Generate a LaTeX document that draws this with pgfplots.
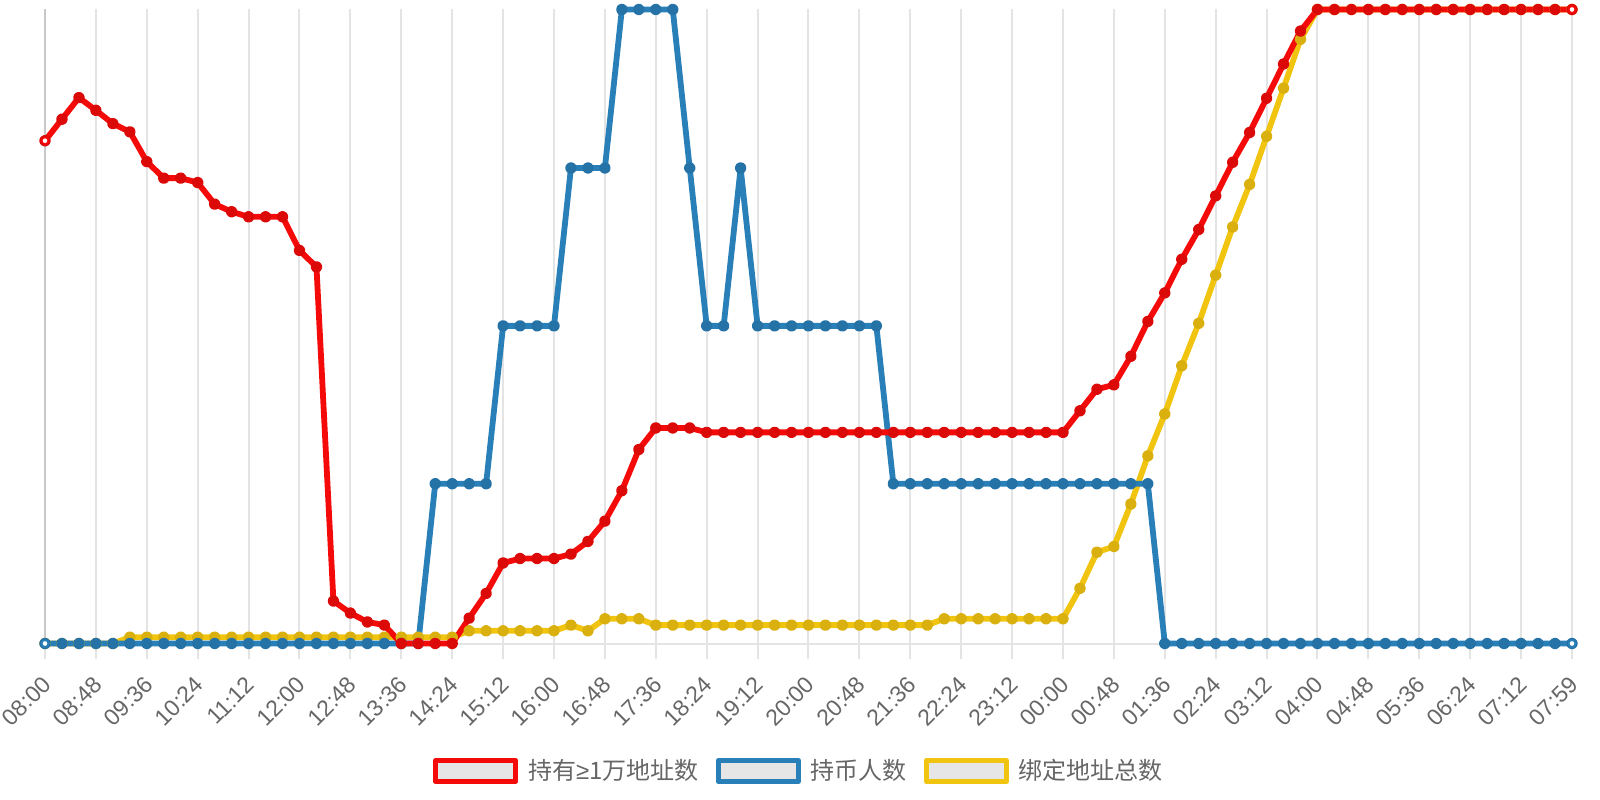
\documentclass[border=0pt]{standalone}
\usepackage{pgfplots}
\pgfplotsset{compat=1.18}
\usepackage{pgfplotstable}
\usepackage{fontspec}
\setmainfont{Liberation Sans}
\newfontfamily\cjk{Noto Sans CJK SC}
\newfontfamily\latin{Liberation Sans}
\definecolor{cred}{RGB}{245,10,10}
\definecolor{cblue}{RGB}{41,128,185}
\definecolor{cyellow}{RGB}{241,196,15}
\definecolor{gridgray}{RGB}{228,228,228}
\definecolor{axisgray}{RGB}{200,200,200}
\definecolor{textgray}{RGB}{102,102,102}
\definecolor{legfill}{RGB}{230,230,230}

\pgfplotstableread{
i r b y
0 79.3 0 0
1 82.7 0 0
2 86.1 0 0
3 84.1 0 0
4 82.0 0 0
5 80.7 0 1.0
6 76.0 0 1.0
7 73.4 0 1.0
8 73.4 0 1.0
9 72.7 0 1.0
10 69.3 0 1.0
11 68.1 0 1.0
12 67.3 0 1.0
13 67.3 0 1.0
14 67.3 0 1.0
15 62.0 0 1.0
16 59.4 0 1.0
17 6.7 0 1.0
18 4.8 0 1.0
19 3.4 0 1.0
20 2.9 0 1.0
21 0 0 1.0
22 0 0 1.0
23 0 25.2 1.0
24 0 25.2 1.0
25 4.0 25.2 2.0
26 7.9 25.2 2.0
27 12.7 50.1 2.0
28 13.4 50.1 2.0
29 13.4 50.1 2.0
30 13.4 50.1 2.0
31 14.1 75.0 2.9
32 16.1 75.0 2.0
33 19.3 75.0 3.9
34 24.1 100 3.9
35 30.6 100 3.9
36 34.0 100 2.9
37 34.0 100 2.9
38 34.0 75.0 2.9
39 33.3 50.1 2.9
40 33.3 50.1 2.9
41 33.3 75.0 2.9
42 33.3 50.1 2.9
43 33.3 50.1 2.9
44 33.3 50.1 2.9
45 33.3 50.1 2.9
46 33.3 50.1 2.9
47 33.3 50.1 2.9
48 33.3 50.1 2.9
49 33.3 50.1 2.9
50 33.3 25.2 2.9
51 33.3 25.2 2.9
52 33.3 25.2 2.9
53 33.3 25.2 3.9
54 33.3 25.2 3.9
55 33.3 25.2 3.9
56 33.3 25.2 3.9
57 33.3 25.2 3.9
58 33.3 25.2 3.9
59 33.3 25.2 3.9
60 33.3 25.2 3.9
61 36.7 25.2 8.7
62 40.1 25.2 14.4
63 40.8 25.2 15.3
64 45.3 25.2 22.0
65 50.8 25.2 29.6
66 55.3 0 36.2
67 60.6 0 43.8
68 65.3 0 50.5
69 70.6 0 58.1
70 75.9 0 65.7
71 80.6 0 72.4
72 86.0 0 80.0
73 91.4 0 87.6
74 96.6 0 95.3
75 100 0 100
76 100 0 100
77 100 0 100
78 100 0 100
79 100 0 100
80 100 0 100
81 100 0 100
82 100 0 100
83 100 0 100
84 100 0 100
85 100 0 100
86 100 0 100
87 100 0 100
88 100 0 100
89 100 0 100
90 100 0 100
}\datatable

\begin{document}
\begin{tikzpicture}
\path[use as bounding box] (0,0) rectangle (800bp,400bp);
\begin{axis}[
  scale only axis, width=763.5bp, height=317bp,
  anchor=south west, at={(22.5bp,78.25bp)},
  xmin=0, xmax=90, ymin=0, ymax=100,
  clip=false,
  axis x line*=bottom, axis y line*=left,
  x axis line style={draw=gridgray, line width=1bp, -},
  y axis line style={draw=axisgray, line width=1bp, -},
  ytick=\empty,
  xtick={0,3,...,90},
  xticklabels={08:00,08:48,09:36,10:24,11:12,12:00,12:48,13:36,14:24,15:12,16:00,16:48,17:36,18:24,19:12,20:00,20:48,21:36,22:24,23:12,00:00,00:48,01:36,02:24,03:12,04:00,04:48,05:36,06:24,07:12,07:59},
  xmajorgrids, major grid style={draw=gridgray, line width=1bp},
  tick align=outside, major tick length=8bp,
  xtick style={draw=gridgray, line width=1bp},
  xticklabel style={font=\fontsize{11.5bp}{13bp}\selectfont, text=textgray, yshift=-10.5bp, xshift=1bp, rotate=45, anchor=east, inner sep=0pt},
  legend columns=3,
  legend style={at={(0.4944,-0.2011)}, anchor=center, draw=none, fill=none,
    font=\cjk\fontsize{12bp}{14bp}\selectfont, text=textgray,
    /tikz/every odd column/.append style={column sep=3bp},
    /tikz/every even column/.append style={column sep=6.5bp}},
  legend image code/.code={\draw[#1, sharp plot, line width=2.5bp, fill=legfill] (0bp,-5.25bp) rectangle (40bp,5.25bp);},
  reverse legend,
  every axis plot/.append style={line width=2.9bp, line join=round, line cap=round, sharp plot, mark=*, mark size=1.45bp, mark options={line width=0.3bp}},
]
\addplot[cyellow, mark options={fill=cyellow!90!black, draw=cyellow!90!black}] table[x=i, y=y] {\datatable};
\addlegendentry{绑定地址总数}
\addplot[cblue, mark options={fill=cblue!90!black, draw=cblue!90!black}] table[x=i, y=b] {\datatable};
\addlegendentry{持币人数}
\addplot[cblue, only marks, mark=*, mark size=1.7bp, mark options={fill=white, draw=cblue, line width=0.9bp}, forget plot] coordinates {(0,0) (90,0)};
\addplot[cred, mark options={fill=cred!90!black, draw=cred!90!black}] table[x=i, y=r] {\datatable};
\addlegendentry{持有{\latin ≥}1万地址数}
\addplot[cred, only marks, mark=*, mark size=1.7bp, mark options={fill=white, draw=cred, line width=0.9bp}, forget plot] coordinates {(0,79.3) (90,100)};
\end{axis}
\end{tikzpicture}
\end{document}
